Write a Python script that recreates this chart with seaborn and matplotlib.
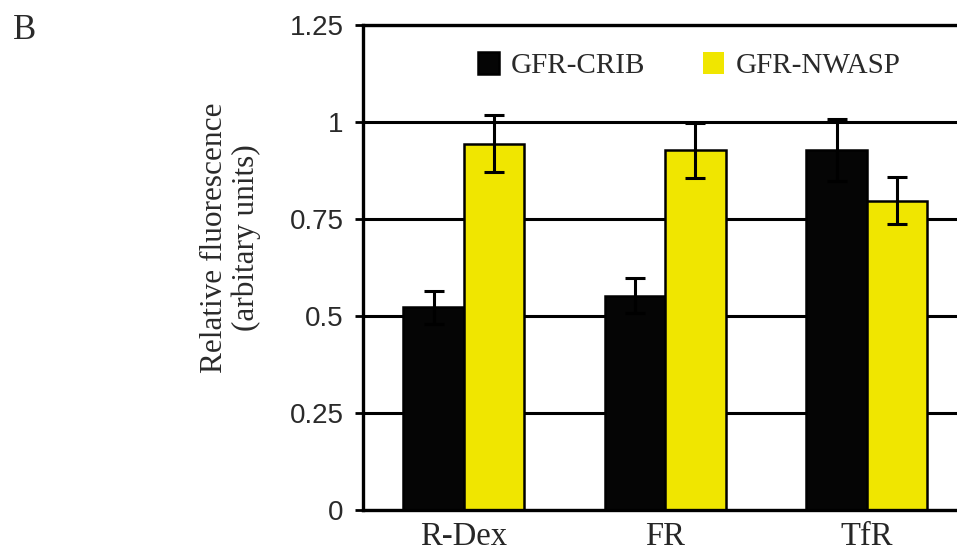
import pandas as pd
import matplotlib
matplotlib.use("Agg")
import matplotlib.pyplot as plt
import seaborn as sns

# values
markers = ["R-Dex", "FR", "TfR"]
groups = ["GFR-CRIB", "GFR-NWASP"]
crib = [0.522, 0.552, 0.928]
crib_err = [0.042, 0.045, 0.079]
nwasp = [0.944, 0.927, 0.797]
nwasp_err = [0.073, 0.071, 0.061]
colours = ["#050505", "#F0E600"]
yticks = [0, 0.25, 0.5, 0.75, 1, 1.25]
ytick_labels = ["0", "0.25", "0.5", "0.75", "1", "1.25"]

df = pd.DataFrame({
    "marker": markers * 2,
    "group": [groups[0]] * 3 + [groups[1]] * 3,
    "value": crib + nwasp,
})
errs = [crib_err, nwasp_err]

sns.set_style("white")
plt.rcParams["font.family"] = ["Liberation Serif", "DejaVu Serif"]

fig = plt.figure(figsize=(9.57, 5.5), dpi=100)
ax = fig.add_axes([0.3793, 0.0727, 0.6317, 0.8818])

sns.barplot(data=df, x="marker", y="value", hue="group", palette=colours,
            width=0.6, errorbar=None, edgecolor="black", linewidth=1.8,
            saturation=1, ax=ax, zorder=2)

# error bars on top of the drawn bars
for cont, err in zip(ax.containers, errs):
    xs = [p.get_x() + p.get_width() / 2 for p in cont]
    ys = [p.get_height() for p in cont]
    ax.errorbar(xs, ys, yerr=err, fmt="none", ecolor="black",
                elinewidth=2.2, capsize=7, capthick=2.2, zorder=3)

ax.set_xlim(-0.5, 2.5)
ax.set_ylim(0, 1.25)
ax.set_yticks(yticks)
ax.set_yticklabels(ytick_labels, fontfamily="Liberation Sans", color="#2a2a2a")
ax.tick_params(axis="y", direction="out", length=6, width=2, labelsize=20,
               pad=8, left=True, color="black")
ax.tick_params(axis="x", length=0, labelsize=23.5, pad=8)
ax.set_xlabel("")
ax.set_axisbelow(True)
ax.yaxis.grid(True, color="black", linewidth=2.2)

for side in ["left", "bottom", "top"]:
    ax.spines[side].set_visible(True)
    ax.spines[side].set_color("black")
    ax.spines[side].set_linewidth(2.4)
ax.spines["right"].set_visible(False)

ax.set_ylabel("Relative fluorescence\n(arbitary units)", fontsize=22.5,
              linespacing=1.15, color="#2a2a2a")
ax.yaxis.set_label_coords(-0.168, 0.561)

leg = ax.legend(ncol=2, frameon=False, loc="center left",
                bbox_to_anchor=(0.171, 0.917),
                prop={"family": "Liberation Serif", "size": 21},
                handlelength=0.72, handleheight=0.83, handletextpad=0.4,
                columnspacing=2.0, borderaxespad=0)
for t in leg.get_texts():
    t.set_color("#2a2a2a")
leg.legend_handles[1].set_edgecolor("none")

fig.text(0.026, 0.945, "B", fontsize=25, ha="center", va="center", color="#2a2a2a")

fig.savefig("out.png", dpi=100)
